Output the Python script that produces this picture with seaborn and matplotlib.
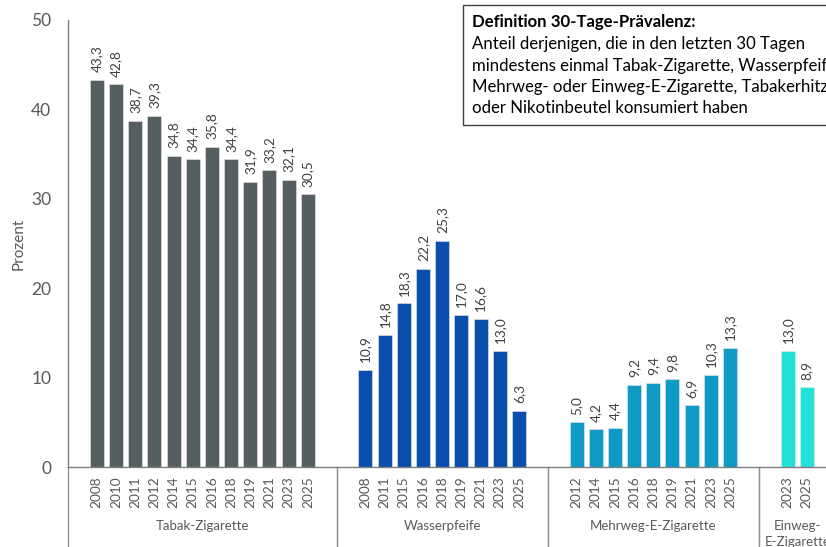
import numpy as np
import pandas as pd
import matplotlib
matplotlib.use("Agg")
import matplotlib.pyplot as plt
import matplotlib.transforms as mtransforms
from matplotlib.patches import Rectangle
import seaborn as sns

# ---- data ----
categories = ["Tabak-Zigarette", "Wasserpfeife", "Mehrweg-E-Zigarette", "Einweg-\nE-Zigarette"]
tabak_years = ["2008", "2010", "2011", "2012", "2014", "2015", "2016", "2018", "2019", "2021", "2023", "2025"]
tabak_vals = [43.3, 42.8, 38.7, 39.3, 34.8, 34.4, 35.8, 34.4, 31.9, 33.2, 32.1, 30.5]
wasser_years = ["2008", "2011", "2015", "2016", "2018", "2019", "2021", "2023", "2025"]
wasser_vals = [10.9, 14.8, 18.3, 22.2, 25.3, 17.0, 16.6, 13.0, 6.3]
mehrweg_years = ["2012", "2014", "2015", "2016", "2018", "2019", "2021", "2023", "2025"]
mehrweg_vals = [5.0, 4.2, 4.4, 9.2, 9.4, 9.8, 6.9, 10.3, 13.3]
einweg_years = ["2023", "2025"]
einweg_vals = [13.0, 8.9]
colors = ["#555E60", "#0A4EAD", "#0E9AC4", "#22E2D8"]

groups = [(tabak_years, tabak_vals), (wasser_years, wasser_vals),
          (mehrweg_years, mehrweg_vals), (einweg_years, einweg_vals)]

rows = []
pos = 0
bounds = []
for cat, (yrs, vals) in zip(categories, groups):
    start = pos
    for y, v in zip(yrs, vals):
        rows.append({"pos": pos, "year": y, "val": v, "cat": cat})
        pos += 1
    bounds.append((start - 1.5, pos - 1 + 1.5))
    pos += 2
df = pd.DataFrame(rows)

# ---- style ----
sns.set_style("white")
plt.rcParams["font.family"] = ["Lato", "DejaVu Sans"]
gray = "#595959"

fig = plt.figure(figsize=(8.26, 5.47), dpi=100)
ax_h = 447
ax = fig.add_axes([68 / 826, 1 - 467 / 547, 1 - 68 / 826, ax_h / 547])

sns.barplot(data=df, x="pos", y="val", hue="cat", palette=colors, native_scale=True,
            dodge=False, width=0.73, saturation=1, legend=False, ax=ax,
            edgecolor="#e8e8e8", linewidth=0.4)

ax.set_xlim(-1.5, 38.0)
ax.set_ylim(0, 50)
ax.set_yticks([0, 10, 20, 30, 40, 50])
ax.tick_params(axis="y", length=0, pad=12, labelsize=12.5, labelcolor=gray)
ax.set_xticks(df["pos"].tolist())
ax.set_xticklabels(df["year"].tolist(), rotation=90, fontsize=9.8, color=gray)
ax.tick_params(axis="x", length=0, pad=7)
ax.set_xlabel("")
ax.set_ylabel("Prozent", fontsize=11, color=gray)
ax.yaxis.set_label_coords(-0.056, 0.5)

for s in ["top", "right"]:
    ax.spines[s].set_visible(False)
for s in ["left", "bottom"]:
    ax.spines[s].set_color("#7f7f7f")
    ax.spines[s].set_linewidth(1.0)

# value labels
for _, r in df.iterrows():
    ax.annotate(f"{r['val']:.1f}".replace(".", ","), (r["pos"], r["val"]),
                xytext=(0, 5.5), textcoords="offset points", rotation=90,
                ha="center", va="bottom", fontsize=9.8, color="#404040")

# group separators and labels
trans = mtransforms.blended_transform_factory(ax.transData, ax.transAxes)
ybot = -80 / ax_h
for cat, (lo, hi) in zip(categories, bounds):
    for xx in (lo, hi):
        ax.plot([xx, xx], [0, ybot], transform=trans, color="#8c8c8c", lw=0.9,
                clip_on=False)
    ax.text((lo + hi) / 2, -0.119, cat, transform=trans, ha="center", va="top",
            fontsize=9.5, color=gray, clip_on=False, linespacing=1.4)

# definition box
fig.patches.append(Rectangle((463 / 826, 1 - 125 / 547), 0.5, 120 / 547,
                             transform=fig.transFigure, fill=True, facecolor="white",
                             edgecolor="#404040", lw=1.0, zorder=5))
lines = ["Definition 30-Tage-Prävalenz:",
         "Anteil derjenigen, die in den letzten 30 Tagen",
         "mindestens einmal Tabak-Zigarette, Wasserpfeife,",
         "Mehrweg- oder Einweg-E-Zigarette, Tabakerhitzer",
         "oder Nikotinbeutel konsumiert haben"]
ys = [22, 44, 66, 87, 108]
for i, (t, yy) in enumerate(zip(lines, ys)):
    fig.text(472 / 826, 1 - yy / 547, t, ha="left", va="center", fontsize=12.1,
             color="black", fontweight="bold" if i == 0 else "normal", zorder=6)

fig.savefig("out.png", dpi=100)
